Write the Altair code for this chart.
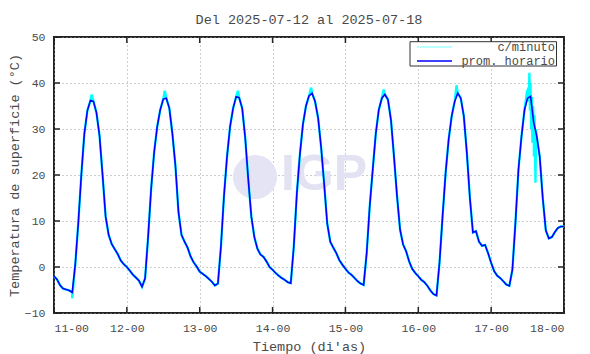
import altair as alt
import pandas as pd

title_text = "Del 2025-07-12 al 2025-07-18"
y_title = "Temperatura de superficie (°C)"
x_title = "Tiempo (di'as)"
start_day = 11
series_names = ["c/minuto", "prom. horario"]
series_colors = ["#00ffff", "#0000ff"]

# hourly averages (prom. horario), one value per hour from 11-00 to 18-00
day11 = [-2.0, -2.7, -4.0, -4.7, -4.9, -5.1, -5.5, 0.5, 9.5, 20.0, 29.0, 34.0, 36.2, 36.0, 33.5, 28.5, 20.0, 11.0, 7.0, 5.0, 3.9, 2.8, 1.4, 0.6]
day12 = [0.0, -0.8, -1.7, -2.3, -3.0, -4.3, -2.5, 6.5, 17.0, 25.0, 30.5, 34.2, 36.5, 36.7, 34.5, 29.0, 22.0, 12.0, 7.0, 5.5, 4.2, 2.3, 1.0, 0.1]
day13 = [-1.0, -1.5, -2.0, -2.6, -3.2, -4.0, -3.6, 4.5, 15.5, 24.0, 30.5, 34.5, 37.0, 36.8, 34.5, 28.0, 19.0, 11.0, 6.5, 4.0, 2.7, 2.2, 1.2, 0.0]
day14 = [-0.6, -1.3, -1.9, -2.4, -2.8, -3.3, -3.5, 4.5, 16.0, 24.5, 31.0, 35.0, 37.2, 37.8, 36.0, 32.4, 26.0, 18.0, 9.5, 5.5, 4.2, 3.0, 1.5, 0.5]
day15 = [-0.4, -1.2, -1.7, -2.4, -3.1, -3.6, -3.9, 3.0, 13.2, 21.2, 29.0, 34.2, 36.7, 37.5, 36.4, 32.0, 24.0, 15.4, 8.1, 4.9, 3.4, 1.2, -0.4, -1.3]
day16 = [-2.0, -2.8, -3.3, -4.1, -5.1, -5.9, -6.2, 1.0, 11.0, 20.4, 27.7, 32.8, 36.0, 37.8, 36.7, 32.8, 24.8, 15.0, 7.5, 7.8, 5.5, 4.6, 4.8, 3.0]
day17 = [0.9, -0.9, -1.9, -2.4, -3.1, -3.8, -4.1, -0.6, 9.6, 21.2, 28.4, 34.2, 36.7, 37.1, 31.5, 28.5, 24.0, 15.0, 8.0, 6.2, 6.5, 7.6, 8.5, 8.8]
day18 = [8.8]
hourly = day11 + day12 + day13 + day14 + day15 + day16 + day17 + day18

# per-minute excursions beyond the hourly curve (hours since 11-00, degC)
minute_extra_t = [6.0, 12.4, 36.5, 60.6, 84.7, 108.6, 132.6,
                  155.9, 156.2, 156.4, 156.6, 156.8, 157.0, 157.2, 157.4, 157.6,
                  157.8, 158.1, 158.3, 158.6, 158.8, 159.1]
minute_extra_v = [-6.8, 37.5, 38.3, 38.3, 39.0, 38.6, 39.5,
                  38.5, 39.0, 36.0, 42.2, 34.0, 40.0, 30.0, 37.0, 27.0,
                  35.0, 24.0, 33.0, 18.3, 30.0, 28.0]

x_ticks = [0, 24, 48, 72, 96, 120, 144, 168]
y_ticks = [-10, 0, 10, 20, 30, 40, 50]

W, H = 510, 276
FONT = "Liberation Mono"
TXT = "#4a4a4a"
TICK = "#222222"

df_h = pd.DataFrame({"t": list(range(len(hourly))), "v": hourly})
df_m = pd.concat([df_h, pd.DataFrame({"t": minute_extra_t, "v": minute_extra_v})]).sort_values("t")
df_xt = pd.DataFrame({"t": x_ticks})
df_yt = pd.DataFrame({"v": y_ticks})

xs = alt.Scale(domain=[0, 168], nice=False, zero=False)
ys = alt.Scale(domain=[-10, 50], nice=False, zero=False)

xaxis = alt.Axis(values=x_ticks, labelExpr=f"({start_day} + datum.value / 24) + '-00'",
                 title=x_title, titleFont=FONT, titleFontSize=13.5, titleFontWeight="normal",
                 titleColor=TXT, titleY=26.5, titleBaseline="top", titleX=W / 2,
                 labelFont=FONT, labelFontSize=11.5, labelColor=TXT, labelPadding=9,
                 tickSize=0, domain=False, grid=True, gridColor="#9a9a9a",
                 gridDash=[1, 3], gridWidth=1)
yaxis = alt.Axis(values=y_ticks, title=y_title, titleFont=FONT, titleFontSize=13.5,
                 titleFontWeight="normal", titleColor=TXT, titleX=-40, titleY=H / 2,
                 titleAngle=-90, titleAlign="center", titleBaseline="middle",
                 labelFont=FONT, labelFontSize=11.5, labelColor=TXT, labelPadding=9,
                 tickSize=0, domain=False, grid=True, gridColor="#9a9a9a",
                 gridDash=[1, 3], gridWidth=1)

one = pd.DataFrame({"k": [0]})

logo_circle = alt.Chart(one).mark_circle(size=1950, color="#e4e4f5", opacity=1).encode(
    x=alt.value(201), y=alt.value(140))
logo_text = alt.Chart(one).mark_text(text="IGP", font="Liberation Sans", fontWeight="bold",
                                     fontSize=50, color="#e2e2f3", align="center",
                                     baseline="middle").encode(
    x=alt.value(270), y=alt.value(138))

cyan = alt.Chart(df_m).mark_line(color=series_colors[0], strokeWidth=2.4).encode(
    x=alt.X("t:Q", scale=xs, axis=xaxis),
    y=alt.Y("v:Q", scale=ys, axis=yaxis))
blue = alt.Chart(df_h).mark_line(color=series_colors[1], strokeWidth=1.6).encode(
    x=alt.X("t:Q", scale=xs), y=alt.Y("v:Q", scale=ys))

xt_bot = alt.Chart(df_xt).mark_rule(color=TICK, strokeWidth=1.5).encode(
    x=alt.X("t:Q", scale=xs), y=alt.value(H - 6), y2=alt.value(H))
xt_top = alt.Chart(df_xt).mark_rule(color=TICK, strokeWidth=1.5).encode(
    x=alt.X("t:Q", scale=xs), y=alt.value(0), y2=alt.value(6))
yt_left = alt.Chart(df_yt).mark_rule(color=TICK, strokeWidth=1.5).encode(
    y=alt.Y("v:Q", scale=ys), x=alt.value(0), x2=alt.value(6))
yt_right = alt.Chart(df_yt).mark_rule(color=TICK, strokeWidth=1.5).encode(
    y=alt.Y("v:Q", scale=ys), x=alt.value(W - 6), x2=alt.value(W))

legend_box = alt.Chart(one).mark_rect(fill="white", stroke="#333333", strokeWidth=1).encode(
    x=alt.value(356), x2=alt.value(502.5), y=alt.value(4.7), y2=alt.value(29))
legend_layers = []
for i, (name, col) in enumerate(zip(series_names, series_colors)):
    d = pd.DataFrame({"label": [name]})
    yy = 10 + 14 * i
    legend_layers.append(alt.Chart(d).mark_rule(color=col, strokeWidth=1.6 if i else 1.0,
                                                opacity=1 if i else 0.55).encode(
        x=alt.value(363), x2=alt.value(398), y=alt.value(yy)))
    legend_layers.append(alt.Chart(d).mark_text(font=FONT, fontSize=12, color=TXT,
                                                align="right", baseline="middle").encode(
        text="label:N", x=alt.value(501), y=alt.value(yy)))

chart = alt.layer(logo_circle, logo_text, cyan, blue, xt_bot, xt_top, yt_left, yt_right,
                  legend_box, *legend_layers).properties(
    width=W, height=H,
    title=alt.TitleParams(title_text, font=FONT, fontSize=13.5, fontWeight="normal",
                          color=TXT, anchor="middle", offset=13.5, baseline="alphabetic",
                          dy=20),
    autosize=alt.AutoSizeParams(type="none"),
    padding={"left": 54, "top": 37, "right": 26, "bottom": 41},
    background="white",
).configure_view(stroke="#222222", strokeWidth=2)

chart.save("out.html", embed_options={"renderer": "svg", "actions": False})
